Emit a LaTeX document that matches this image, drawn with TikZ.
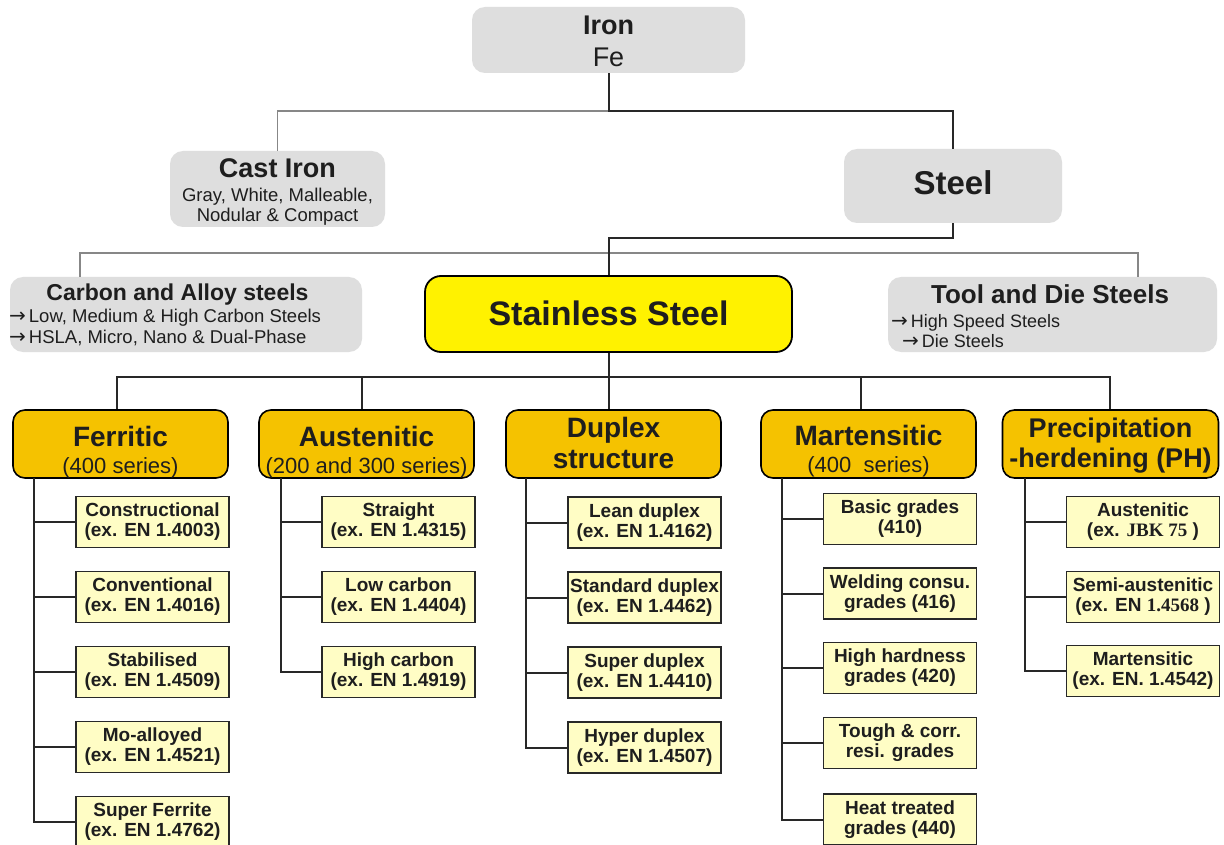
\documentclass[tikz,border=0pt]{standalone}
\usepackage{fontspec}
\setmainfont{Liberation Sans}
\newfontfamily\romanb{Liberation Serif}
\newfontfamily\symbfont{DejaVu Sans}
\newcommand\fsz[2]{\fontsize{#1}{#2}\selectfont}
\newcommand\rarr{{\symbfont\fontsize{20}{20}\selectfont →}\hspace{3pt}}

\definecolor{boxgray}{RGB}{222,222,222}
\definecolor{ssyellow}{RGB}{255,242,0}
\definecolor{catorange}{RGB}{245,194,0}
\definecolor{subyellow}{RGB}{255,253,197}
\definecolor{inkdark}{RGB}{30,30,30}
\definecolor{linedark}{RGB}{40,40,40}
\definecolor{linelight}{RGB}{135,135,135}

\begin{document}
\begin{tikzpicture}[x=1pt,y=-1pt,
  txt/.style={inner sep=0pt, text=inkdark},
  graybox/.style={fill=boxgray, rounded corners=13pt, inner sep=0pt},
  ssbox/.style={fill=ssyellow, draw=black, line width=1.8pt, rounded corners=16pt, inner sep=0pt},
  catbox/.style={fill=catorange, draw=black, line width=1.6pt, rounded corners=12pt,
                 inner sep=0pt, minimum width=215pt, minimum height=68pt},
  subbox/.style={fill=subyellow, draw=linedark, line width=1.6pt, inner sep=0pt,
                 minimum width=153pt, minimum height=51pt, align=center,
                 text=inkdark, font=\fsz{19}{20}\bfseries},
  heavy/.style={draw=linedark, line width=2pt},
  light/.style={draw=linelight, line width=1.5pt},
]
\path[use as bounding box, fill=white] (0,0) rectangle (1224,845);

% ---------- top level ----------
\node[graybox, minimum width=273pt, minimum height=66pt] (iron) at (608.5,40) {};
\node[txt, anchor=base, font=\fsz{27}{32}\bfseries] (irontxt) at (608.5,35) {Iron};
\node[txt, anchor=base, font=\fsz{27}{32}] (fetxt) at (608.5,67) {Fe};

\node[graybox, minimum width=215pt, minimum height=76pt] (cast) at (277.5,189) {};
\node[txt, anchor=base, font=\fsz{27}{30}\bfseries] (casttxt) at (277.5,178) {Cast Iron};
\node[txt, anchor=base, font=\fsz{18.5}{20}] (castl1) at (277.5,202) {Gray, White, Malleable,};
\node[txt, anchor=base, font=\fsz{18.5}{20}] (castl2) at (277.5,222) {Nodular \& Compact};

\node[graybox, minimum width=218pt, minimum height=74pt] (steel) at (953,186) {};
\node[txt, anchor=base, font=\fsz{33}{36}\bfseries] (steeltxt) at (953,195) {Steel};

% ---------- steel families ----------
\node[graybox, minimum width=352pt, minimum height=75pt] (carbon) at (186,314.5) {};
\node[txt, anchor=base, font=\fsz{23}{26}\bfseries] (carbontxt) at (177.5,300) {Carbon and Alloy steels};
\node[txt, anchor=base west, font=\fsz{18.5}{20}] (carbonl1) at (9,323) {\rarr Low, Medium \& High Carbon Steels};
\node[txt, anchor=base west, font=\fsz{18.5}{20}] (carbonl2) at (9,343) {\rarr HSLA, Micro, Nano \& Dual-Phase};

\node[ssbox, minimum width=367pt, minimum height=76pt] (stainless) at (608.5,314) {};
\node[txt, anchor=base, font=\fsz{34}{38}\bfseries] (stainlesstxt) at (608.5,325) {Stainless Steel};

\node[graybox, minimum width=329pt, minimum height=75pt] (tool) at (1052.5,314.5) {};
\node[txt, anchor=base, font=\fsz{26}{28}\bfseries] (tooltxt) at (1050,303) {Tool and Die Steels};
\node[txt, anchor=base west, font=\fsz{18}{20}] (tooll1) at (891,327) {\rarr High Speed Steels};
\node[txt, anchor=base west, font=\fsz{18}{20}] (tooll2) at (902,347) {\rarr Die Steels};

% ---------- stainless steel classes ----------
\node[catbox] (ferritic) at (120.5,444) {};
\node[txt, anchor=base, font=\fsz{28}{30}\bfseries] (ferritict) at (120.5,446) {Ferritic};
\node[txt, anchor=base, font=\fsz{22}{24}] (ferritics) at (120.5,473) {(400 series)};

\node[catbox] (austenitic) at (366.5,444) {};
\node[txt, anchor=base, font=\fsz{28}{30}\bfseries] (austenitict) at (366.5,446) {Austenitic};
\node[txt, anchor=base, font=\fsz{22}{24}] (austenitics) at (366.5,473) {(200 and 300 series)};

\node[catbox] (duplex) at (613.5,444) {};
\node[txt, anchor=base, font=\fsz{28}{30}\bfseries] (duplext) at (613.5,437) {Duplex};
\node[txt, anchor=base, font=\fsz{28}{30}\bfseries] (duplexs) at (613.5,468) {structure};

\node[catbox] (martensitic) at (868.5,444) {};
\node[txt, anchor=base, font=\fsz{28}{30}\bfseries] (martensitict) at (868.5,445) {Martensitic};
\node[txt, anchor=base, font=\fsz{22}{24}] (martensitics) at (868.5,472) {(400~ series)};

\node[catbox, minimum width=216pt] (ph) at (1110.5,444) {};
\node[txt, anchor=base, font=\fsz{27}{30}\bfseries] (pht) at (1110.5,437) {Precipitation};
\node[txt, anchor=base, font=\fsz{27}{30}\bfseries] (phs) at (1110.5,467) {-herdening (PH)};

% ---------- grades ----------
\node[subbox] (f1) at (152.5,522) {Constructional\\(ex. EN 1.4003)};
\node[subbox] (f2) at (152.5,597) {Conventional\\(ex. EN 1.4016)};
\node[subbox] (f3) at (152.5,672) {Stabilised\\(ex. EN 1.4509)};
\node[subbox] (f4) at (152.5,747) {Mo-alloyed\\(ex. EN 1.4521)};
\node[subbox] (f5) at (152.5,822) {Super Ferrite\\(ex. EN 1.4762)};

\node[subbox] (a1) at (398.5,522) {Straight\\(ex. EN 1.4315)};
\node[subbox] (a2) at (398.5,597) {Low carbon\\(ex. EN 1.4404)};
\node[subbox] (a3) at (398.5,672) {High carbon\\(ex. EN 1.4919)};

\node[subbox] (d1) at (644.5,522.5) {Lean duplex\\(ex. EN 1.4162)};
\node[subbox] (d2) at (644.5,597.5) {Standard duplex\\(ex. EN 1.4462)};
\node[subbox] (d3) at (644.5,672.5) {Super duplex\\(ex. EN 1.4410)};
\node[subbox] (d4) at (644.5,747.5) {Hyper duplex\\(ex. EN 1.4507)};

\node[subbox] (m1) at (900,519) {Basic grades\\(410)};
\node[subbox] (m2) at (900,593.5) {Welding consu.\\grades (416)};
\node[subbox] (m3) at (900,668) {High hardness\\grades (420)};
\node[subbox] (m4) at (900,743) {Tough \& corr.\\resi. grades};
\node[subbox] (m5) at (900,819.5) {Heat treated\\grades (440)};

\node[subbox] (p1) at (1143,522) {Austenitic\\(ex. {\romanb JBK 75} )};
\node[subbox] (p2) at (1143,597) {Semi-austenitic\\(ex. EN {\romanb 1.4568} )};
\node[subbox] (p3) at (1143,671) {Martensitic\\(ex. EN. 1.4542)};

% ---------- connectors ----------
\coordinate (ij) at (608.5,111);
\draw[light] (ij) -| (cast.north);
\draw[heavy] (iron.south) -- (ij) -| (steel.north);

\coordinate (gL) at (80,253);
\coordinate (gR) at (1138,253);
\draw[light] ([xshift=-106pt]carbon.north) -- (gL) -- (gR) -- ([xshift=85.5pt]tool.north);

\coordinate (sj) at (608.5,238);
\draw[heavy] (steel.south) |- (sj) -- (stainless.north);

\coordinate (bus) at (608.5,377);
\draw[heavy] (stainless.south) -- (bus);
\draw[heavy] ([xshift=-3.5pt]ferritic.north) |- (bus);
\draw[heavy] ([xshift=-4.5pt]austenitic.north) |- (bus);
\draw[heavy] ([xshift=-5pt]duplex.north) |- (bus);
\draw[heavy] ([xshift=-7.5pt]martensitic.north) |- (bus);
\draw[heavy] ([xshift=-0.5pt]ph.north) |- (bus);

\coordinate (fT) at (34,478);
\foreach \s in {f1,f2,f3,f4,f5} \draw[heavy] (fT) |- (\s.west);
\coordinate (aT) at (281,478);
\foreach \s in {a1,a2,a3} \draw[heavy] (aT) |- (\s.west);
\coordinate (dT) at (526,478);
\foreach \s in {d1,d2,d3,d4} \draw[heavy] (dT) |- (\s.west);
\coordinate (mT) at (782,478);
\foreach \s in {m1,m2,m3,m4,m5} \draw[heavy] (mT) |- (\s.west);
\coordinate (pT) at (1025,478);
\foreach \s in {p1,p2,p3} \draw[heavy] (pT) |- (\s.west);
\end{tikzpicture}
\end{document}
